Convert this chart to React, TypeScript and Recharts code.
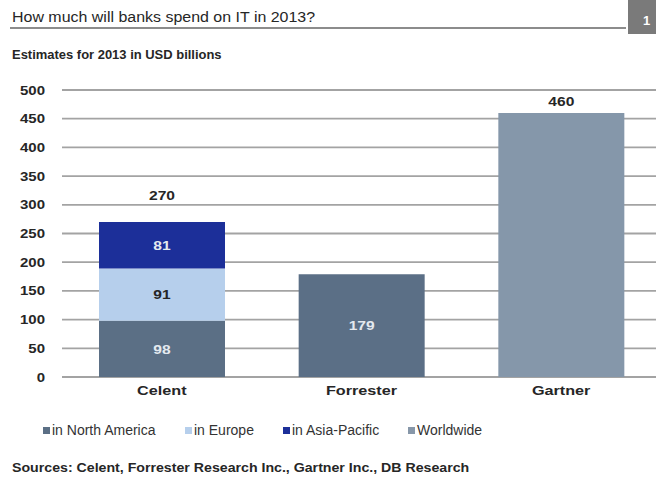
import React from 'react';
import { BarChart, Bar, XAxis, YAxis, CartesianGrid, LabelList, Cell } from 'recharts';

const categories = ['Celent', 'Forrester', 'Gartner'];
const northAmerica = [98, null, null];
const europe = [91, null, null];
const asiaPacific = [81, null, null];
const worldwide = [null, 179, 460];
const totals = [270, null, null];
const yTicks = [0, 50, 100, 150, 200, 250, 300, 350, 400, 450, 500];

const seriesNames = ['in North America', 'in Europe', 'in Asia-Pacific', 'Worldwide'];
const seriesColors = ['#5b6f85', '#b6cfec', '#1c2f99', '#8797a9'];
const forresterColor = '#5b6f86';
const gartnerColor = '#8597aa';

const data = categories.map((c, i) => ({
  name: c,
  na: northAmerica[i],
  eu: europe[i],
  ap: asiaPacific[i],
  ww: worldwide[i],
  total: totals[i],
}));

const FONT = 'Arial, "Liberation Sans", sans-serif';
const SX = 1.2;

const STxt = ({ x, y, anchor, fill, size, children, dy }: any) => (
  <g transform={`translate(${x},${y}) scale(${SX},1)`}>
    <text x={0} y={0} dy={dy} textAnchor={anchor} fill={fill} fontFamily={FONT} fontSize={size} fontWeight="bold">
      {children}
    </text>
  </g>
);

const inLabel = (color: string) => (props: any) => {
  const { x, y, width, height, value } = props;
  if (value == null) return null;
  return <STxt x={x + width / 2} y={y + height / 2} dy="0.36em" anchor="middle" fill={color} size={13}>{value}</STxt>;
};

const totalLabel = (props: any) => {
  const { x, y, width, value } = props;
  if (value == null) return null;
  const idx = asiaPacific.indexOf(value);
  const t = totals[idx];
  if (t == null) return null;
  return <STxt x={x + width / 2} y={y - 22} anchor="middle" fill="#262626" size={13}>{t}</STxt>;
};

const wwLabel = (props: any) => {
  const { x, y, width, height, value } = props;
  if (value == null) return null;
  if (value === worldwide[1]) {
    return <STxt x={x + width / 2} y={y + height / 2} dy="0.36em" anchor="middle" fill="#e4e9ef" size={13}>{value}</STxt>;
  }
  return <STxt x={x + width / 2} y={y - 7} anchor="middle" fill="#262626" size={13}>{value}</STxt>;
};

const YTick = (props: any) => {
  const { x, y, payload } = props;
  return <STxt x={x} y={y} dy="0.36em" anchor="end" fill="#262626" size={12.5}>{payload.value}</STxt>;
};

const XTick = (props: any) => {
  const { x, y, payload } = props;
  return <STxt x={x} y={y} dy="0.8em" anchor="middle" fill="#262626" size={13.5}>{payload.value}</STxt>;
};

const legendX = [43, 185, 283, 408];

export default function App() {
  return (
    <div style={{ position: 'absolute', left: 0, top: 0, width: 656, height: 477, overflow: 'hidden', background: '#fff', fontFamily: FONT }}>
      <div style={{ position: 'absolute', left: 12, top: 9, fontSize: 14, color: '#262626', whiteSpace: 'nowrap', transform: 'scaleX(1.14)', transformOrigin: 'left top' }}>
        How much will banks spend on IT in 2013?
      </div>
      <div style={{ position: 'absolute', left: 10, top: 27, width: 616, height: 2, background: '#8c8c8c' }} />
      <div style={{ position: 'absolute', left: 628, top: 0, width: 28, height: 34, background: '#7a7a7a' }}>
        <div style={{ position: 'absolute', left: 15, top: 13, color: '#fff', fontSize: 13, fontWeight: 'bold' }}>1</div>
      </div>
      <div style={{ position: 'absolute', left: 12, top: 48, fontSize: 12, fontWeight: 'bold', color: '#262626', whiteSpace: 'nowrap', transform: 'scaleX(1.08)', transformOrigin: 'left top' }}>
        Estimates for 2013 in USD billions
      </div>
      <div style={{ position: 'absolute', left: 0, top: 0 }}>
        <BarChart width={661} height={410} data={data} margin={{ top: 90, right: 0, bottom: 0, left: 0 }} barSize={126}>
          <CartesianGrid vertical={false} stroke="#a3a3a3" strokeWidth={1.8} />
          <XAxis dataKey="name" axisLine={false} tickLine={false} height={33} tickSize={0} tickMargin={7} tick={<XTick />} />
          <YAxis width={62} domain={[0, 500]} ticks={yTicks} axisLine={false} tickLine={false} tickSize={0} tickMargin={17}
            interval={0} tick={<YTick />} />
          <Bar dataKey="na" stackId="a" fill={seriesColors[0]} isAnimationActive={false}>
            <LabelList dataKey="na" content={inLabel('#e4e9ef')} />
          </Bar>
          <Bar dataKey="eu" stackId="a" fill={seriesColors[1]} isAnimationActive={false}>
            <LabelList dataKey="eu" content={inLabel('#262626')} />
          </Bar>
          <Bar dataKey="ap" stackId="a" fill={seriesColors[2]} isAnimationActive={false}>
            <LabelList dataKey="ap" content={inLabel('#e4e9ef')} />
            <LabelList dataKey="ap" content={totalLabel} />
          </Bar>
          <Bar dataKey="ww" stackId="a" fill={seriesColors[3]} isAnimationActive={false}>
            {data.map((d, i) => (
              <Cell key={i} fill={i === 1 ? forresterColor : gartnerColor} />
            ))}
            <LabelList dataKey="ww" content={wwLabel} />
          </Bar>
        </BarChart>
      </div>
      {seriesNames.map((n, i) => (
        <div key={n} style={{ position: 'absolute', left: legendX[i], top: 422, display: 'flex', alignItems: 'center', fontSize: 14, color: '#333', whiteSpace: 'nowrap' }}>
          <span style={{ display: 'inline-block', width: 7, height: 7, background: seriesColors[i], marginRight: 2 }} />
          {n}
        </div>
      ))}
      <div style={{ position: 'absolute', left: 12, top: 461, fontSize: 12, fontWeight: 'bold', color: '#262626', whiteSpace: 'nowrap', transform: 'scaleX(1.18)', transformOrigin: 'left top' }}>
        Sources: Celent, Forrester Research Inc., Gartner Inc., DB Research
      </div>
    </div>
  );
}
